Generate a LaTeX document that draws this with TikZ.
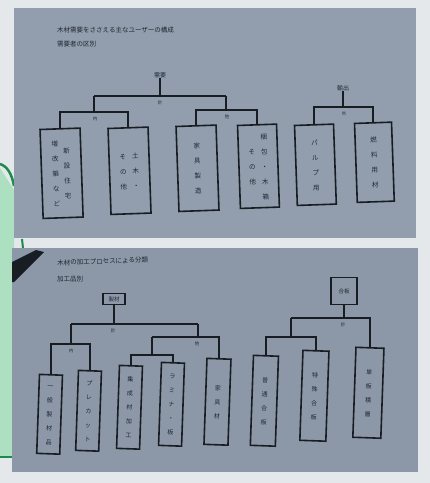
\documentclass[tikz,border=0pt]{standalone}
\usepackage{fontspec}
\setmainfont{Noto Sans CJK JP}
\definecolor{slideA}{RGB}{146,158,173}
\definecolor{slideB}{RGB}{140,152,167}
\definecolor{ink}{RGB}{24,29,36}
\definecolor{txt}{RGB}{32,38,48}
\definecolor{paper}{RGB}{228,232,234}
\definecolor{lgreen}{RGB}{172,224,192}
\definecolor{dgreen}{RGB}{28,140,76}
\newcommand{\tcol}[1]{\begin{tabular}[c]{@{}c@{}}#1\end{tabular}}
\begin{document}
\begin{tikzpicture}[x=1pt,y=-1pt,
  box/.style={draw=ink,line width=1.6pt,inner sep=0pt,anchor=north,text=txt,
    font=\fontsize{6.5}{15}\selectfont},
  boxb/.style={box,font=\fontsize{6}{14}\selectfont},
  root/.style={draw=ink,line width=1.4pt,inner sep=1pt,text=txt,font=\fontsize{5.5}{6}\selectfont},
  rootlbl/.style={text=txt,inner sep=0.5pt,font=\fontsize{6}{6}\selectfont},
  link/.style={draw=ink,line width=1.5pt},
  lbl/.style={text=txt,font=\fontsize{4.5}{5}\selectfont,inner sep=0.3pt},
  ttl/.style={text=txt,font=\fontsize{6.5}{8}\selectfont,anchor=west,inner sep=0pt}]
\useasboundingbox (0,0) rectangle (430,483);
% paper and slides
\fill[paper] (0,0) rectangle (430,483);
\fill[lgreen] (0,168) -- (14,190) -- (14,456) -- (0,456) -- cycle;
\draw[dgreen,line width=2.5pt] (0,164) .. controls (7,166) and (12,174) .. (14,186);
\draw[dgreen,line width=2.5pt] (0,457) -- (14,457);
\fill[slideA] (14,8) rectangle (416,238);
\fill[slideB] (12,248) rectangle (418,472);
\draw[dgreen,line width=2pt] (22,239) -- (23,248);
\fill[ink] (12,262) -- (36,250) -- (44,252) -- (14,282) -- (12,282) -- cycle;

% ---------- top slide ----------
\node[ttl] (t1) at (57,30) {木材需要をささえる主なユーザーの構成};
\node[ttl] (t2) at (57,44) {需要者の区別};

\node[rootlbl] (r1) at (160,75) {需要};
\node[rootlbl] (r2) at (343,88) {輸出};

\node[box,rotate=2,minimum width=40pt,minimum height=89pt] (c1) at (60,128)
  {\tcol{増\\改\\築\\な\\ど}\hspace{5pt}\tcol{新\\設\\住\\宅}};
\node[box,rotate=2,minimum width=40pt,minimum height=86pt] (c2) at (128,127)
  {\tcol{そ\\の\\他}\hspace{6pt}\tcol{土\\木\\・}};
\node[box,rotate=2,minimum width=40pt,minimum height=85pt] (c3) at (196,125)
  {\tcol{家\\具\\製\\造}};
\node[box,rotate=2,minimum width=39pt,minimum height=83pt] (c4) at (257,124)
  {\tcol{そ\\の\\他}\hspace{6pt}\tcol{梱\\包\\・\\木\\箱}};
\node[box,rotate=2,minimum width=39pt,minimum height=80pt] (c5) at (314,124)
  {\tcol{パ\\ル\\プ\\用}};
\node[box,rotate=2,minimum width=37pt,minimum height=79pt] (c6) at (373,122)
  {\tcol{燃\\料\\用\\材}};

\coordinate (j1) at (160,96);
\coordinate (m2) at (94,112);
\coordinate (m3) at (226,110);
\coordinate (j4) at (343,107);
\draw[link] (r1.south) -- (r1.south |- j1);
\draw[link] (m2 |- j1) -- (m3 |- j1);
\draw[link] (m2 |- j1) -- (m2);
\draw[link] (m3 |- j1) -- (m3);
\draw[link] (c1.north) -- (c1.north |- m2) -- (c2.north |- m2) -- (c2.north);
\draw[link] (c3.north) -- (c3.north |- m3) -- (c4.north |- m3) -- (c4.north);
\draw[link] (r2.south) -- (r2.south |- j4);
\draw[link] (c5.north) -- (c5.north |- j4) -- (c6.north |- j4) -- (c6.north);

\node[lbl] (l1) at (160,103) {計};
\node[lbl] (l2) at (95,119) {内};
\node[lbl] (l3) at (227,117) {他};
\node[lbl] (l4) at (344,114) {外};

% ---------- bottom slide ----------
\node[ttl,rotate=2] (t3) at (57,263) {木材の加工プロセスによる分類};
\node[ttl] (t4) at (57,279) {加工品別};

\node[root,minimum width=22pt,minimum height=11pt] (R3) at (114,299) {製材};
\node[root,minimum width=26pt,minimum height=27pt] (R4) at (344,291) {合板};

\node[boxb,rotate=-2,minimum width=23pt,minimum height=79pt] (d1) at (51,374)
  {\tcol{一\\般\\製\\材\\品}};
\node[boxb,rotate=-2,minimum width=23pt,minimum height=80pt] (d2) at (90,370)
  {\tcol{プ\\レ\\カ\\ッ\\ト}};
\node[boxb,rotate=-2,minimum width=23pt,minimum height=83pt] (d3) at (131,365)
  {\tcol{集\\成\\材\\加\\工}};
\node[boxb,rotate=-2,minimum width=23pt,minimum height=83pt] (d4) at (173,362)
  {\tcol{ラ\\ミ\\ナ\\・\\板}};
\node[boxb,rotate=-2,minimum width=24pt,minimum height=86pt] (d5) at (219,358)
  {\tcol{家\\具\\材}};
\node[boxb,rotate=-2,minimum width=25pt,minimum height=90pt] (dA) at (266,355)
  {\tcol{普\\通\\合\\板}};
\node[boxb,rotate=-2,minimum width=26pt,minimum height=90pt] (dB) at (316,350)
  {\tcol{特\\殊\\合\\板}};
\node[boxb,rotate=-2,minimum width=28pt,minimum height=90pt] (dC) at (370,347)
  {\tcol{単\\板\\積\\層}};

\coordinate (j5) at (114,324);
\coordinate (m6) at (71,344);
\coordinate (m7) at (198,337);
\coordinate (m8) at (152,355);
\coordinate (j9) at (344,318);
\coordinate (m10) at (291,337);
\draw[link] (R3.south) -- (R3.south |- j5);
\draw[link] (m6 |- j5) -- (m7 |- j5);
\draw[link] (m6 |- j5) -- (m6);
\draw[link] (m7 |- j5) -- (m7);
\draw[link] (d1.north) -- (d1.north |- m6) -- (d2.north |- m6) -- (d2.north);
\draw[link] (m8 |- m7) -- (d5.north |- m7) -- (d5.north);
\draw[link] (m8 |- m7) -- (m8);
\draw[link] (d3.north) -- (d3.north |- m8) -- (d4.north |- m8) -- (d4.north);
\draw[link] (R4.south) -- (R4.south |- j9);
\draw[link] (m10 |- j9) -- (dC.north |- j9) -- (dC.north);
\draw[link] (m10 |- j9) -- (m10);
\draw[link] (dA.north) -- (dA.north |- m10) -- (dB.north |- m10) -- (dB.north);

\node[lbl] (l5) at (113,331) {計};
\node[lbl] (l6) at (71,351) {内};
\node[lbl] (l7) at (197,344) {他};
\node[lbl] (l8) at (343,325) {計};
\end{tikzpicture}
\end{document}
